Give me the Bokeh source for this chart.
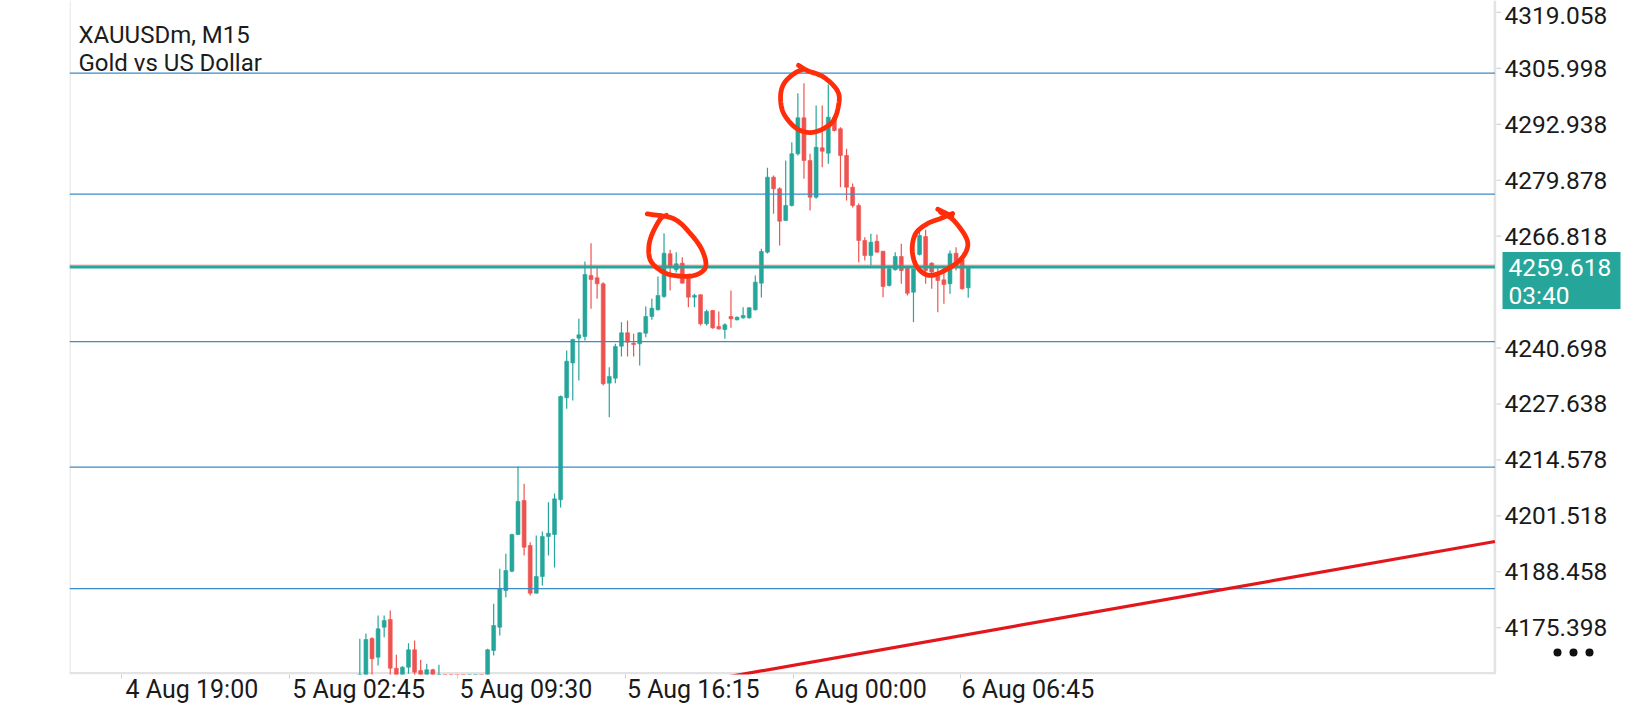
import numpy as np
from bokeh.plotting import figure
from bokeh.models import (ColumnDataSource, FixedTicker, Range1d, LinearAxis,
                          CustomJSTickFormatter)
from bokeh.embed import file_html
from bokeh.resources import INLINE
from bokeh.core.properties import value

# ---------------- data ----------------
symbol_title = "XAUUSDm, M15"
symbol_desc = "Gold vs US Dollar"

opens = [4158.60, 4160.20, 4172.88, 4168.51, 4175.51, 4177.31, 4165.94, 4164.24, 4166.18, 4170.24,
         4165.40, 4164.24, 4165.57, 4160.73, 4162.49, 4160.60, 4158.30, 4157.10, 4155.30, 4157.70,
         4159.00, 4158.40, 4170.08, 4175.51, 4184.09, 4188.59, 4197.16, 4205.10, 4194.59, 4183.45,
         4187.35, 4196.69, 4197.16, 4205.26, 4229.08, 4237.22, 4243.00, 4243.39, 4257.64, 4257.10,
         4255.70, 4232.49, 4233.65, 4241.13, 4244.26, 4241.83, 4241.69, 4244.16, 4248.06, 4249.63,
         4252.73, 4262.70, 4258.97, 4260.51, 4257.01, 4252.57, 4253.13, 4246.36, 4249.47, 4245.73,
         4245.03, 4248.06, 4247.29, 4247.76, 4247.76, 4249.63, 4255.84, 4263.08, 4280.59, 4277.88,
         4270.48, 4273.98, 4286.05, 4294.46, 4284.49, 4275.92, 4287.45, 4286.19, 4294.60, 4291.89,
         4285.66, 4278.25, 4273.98, 4265.81, 4262.31, 4265.64, 4263.31, 4255.30, 4258.97, 4262.07,
         4259.57, 4253.73, 4262.54, 4266.74, 4260.51, 4257.64, 4256.63, 4255.70, 4262.84, 4261.30,
         4254.76]
highs = [4172.80, 4174.04, 4173.18, 4178.25, 4178.25, 4179.42, 4169.07, 4166.41, 4171.78, 4172.41,
         4167.90, 4166.97, 4165.80, 4166.74, 4162.67, 4161.20, 4160.10, 4158.60, 4158.40, 4160.20,
         4160.90, 4170.47, 4180.98, 4189.15, 4192.65, 4197.32, 4213.04, 4209.00, 4195.36, 4196.93,
         4197.86, 4204.70, 4206.73, 4229.61, 4240.12, 4242.86, 4247.52, 4260.90, 4265.18, 4259.57,
         4256.07, 4236.22, 4241.69, 4246.73, 4247.13, 4244.02, 4244.40, 4250.40, 4252.19, 4257.40,
         4267.51, 4263.64, 4263.08, 4261.91, 4257.17, 4253.36, 4253.20, 4249.63, 4249.58, 4249.23,
         4246.50, 4254.13, 4248.06, 4250.24, 4250.24, 4257.64, 4263.87, 4282.78, 4280.99, 4278.25,
         4284.49, 4288.76, 4300.20, 4302.54, 4286.05, 4297.33, 4297.33, 4302.23, 4295.39, 4292.26,
         4287.22, 4279.12, 4274.45, 4266.58, 4267.37, 4267.21, 4263.31, 4259.97, 4263.08, 4265.04,
         4259.57, 4259.20, 4268.31, 4268.31, 4260.74, 4259.57, 4259.57, 4263.47, 4264.24, 4262.31,
         4259.57]
lows = [4156.50, 4159.57, 4160.73, 4166.57, 4173.18, 4162.60, 4162.60, 4162.67, 4164.63, 4164.24,
        4163.07, 4163.07, 4160.73, 4159.57, 4159.57, 4157.50, 4156.40, 4154.20, 4154.60, 4156.80,
        4157.20, 4157.23, 4168.91, 4173.57, 4182.52, 4188.36, 4197.04, 4192.26, 4182.92, 4183.38,
        4185.25, 4192.26, 4189.45, 4203.46, 4226.51, 4228.45, 4233.12, 4242.46, 4249.86, 4252.19,
        4231.95, 4224.55, 4232.49, 4238.72, 4238.72, 4238.72, 4236.62, 4243.23, 4247.29, 4249.47,
        4252.43, 4254.13, 4258.34, 4255.77, 4250.24, 4250.24, 4245.96, 4245.96, 4245.19, 4244.96,
        4242.85, 4245.42, 4247.13, 4247.52, 4247.52, 4249.47, 4252.50, 4262.77, 4272.04, 4264.64,
        4270.36, 4273.75, 4285.66, 4280.22, 4272.81, 4275.55, 4282.92, 4283.72, 4291.26, 4278.25,
        4275.15, 4273.51, 4260.74, 4261.14, 4259.97, 4263.01, 4252.57, 4255.07, 4258.80, 4255.70,
        4252.97, 4246.73, 4262.31, 4255.70, 4254.53, 4249.07, 4251.03, 4253.36, 4258.80, 4254.30,
        4252.43]
closes = [4160.20, 4172.64, 4168.14, 4175.14, 4177.08, 4165.94, 4163.84, 4166.18, 4170.24, 4165.01,
          4164.24, 4165.57, 4162.30, 4162.53, 4160.73, 4158.30, 4157.10, 4155.30, 4157.70, 4159.00,
          4158.20, 4170.24, 4175.91, 4184.48, 4188.75, 4197.16, 4204.87, 4194.19, 4183.45, 4187.35,
          4196.69, 4197.46, 4205.49, 4229.38, 4237.62, 4242.69, 4243.79, 4257.87, 4256.70, 4255.70,
          4232.35, 4234.05, 4241.06, 4244.26, 4242.06, 4241.53, 4244.26, 4248.06, 4249.99, 4252.97,
          4262.84, 4259.57, 4260.37, 4255.84, 4252.57, 4252.97, 4246.36, 4249.23, 4245.42, 4245.19,
          4246.13, 4247.52, 4247.90, 4248.30, 4250.10, 4256.07, 4263.24, 4280.59, 4277.88, 4270.32,
          4273.98, 4286.05, 4294.46, 4284.49, 4275.92, 4287.59, 4286.66, 4294.60, 4291.49, 4285.66,
          4278.25, 4273.98, 4265.81, 4262.31, 4265.41, 4263.08, 4255.07, 4259.20, 4262.07, 4258.80,
          4253.50, 4259.20, 4266.97, 4258.80, 4258.41, 4256.47, 4255.53, 4262.70, 4259.57, 4254.53,
          4259.618]

price_ticks = [4319.058, 4305.998, 4292.938, 4279.878, 4266.818,
               4240.698, 4227.638, 4214.578, 4201.518, 4188.458, 4175.398]
time_labels = ["4 Aug 19:00", "5 Aug 02:45", "5 Aug 09:30", "5 Aug 16:15", "6 Aug 00:00", "6 Aug 06:45"]
time_tick_bars = [-39.1, -11.6, 16.1, 43.6, 71.2, 98.7]      # separators (label starts)
time_label_bars = [-27.6, -0.2, 27.3, 54.8, 82.3, 109.8]     # label centres

level_prices = [4304.90, 4276.64, 4242.17, 4212.87, 4184.53]
current_price = 4259.618
countdown = "03:40"

trend_bars = [80.0, 160.0]
trend_prices = [4168.82, 4188.86]

circle1_bars = [47.24, 51.61, 54.36, 56.28, 56.82, 54.90, 51.61, 49.42, 47.78, 47.50, 48.06, 49.42, 50.40]
circle1_prices = [4272.04, 4270.87, 4267.37, 4263.47, 4259.57, 4257.64, 4257.64, 4258.80, 4261.14,
                  4264.24, 4267.37, 4270.87, 4271.70]
circle2_bars = [72.10, 73.54, 76.27, 78.47, 78.73, 77.65, 74.62, 71.89, 69.69, 69.15, 69.69, 71.33, 72.98]
circle2_prices = [4306.70, 4305.50, 4303.94, 4300.83, 4297.73, 4293.43, 4291.10, 4291.89, 4295.39,
                  4299.27, 4302.40, 4304.73, 4305.90]
circle3_bars = [95.45, 97.63, 99.84, 99.28, 97.09, 93.80, 91.62, 90.80, 91.34, 93.26, 95.45, 97.43]
circle3_prices = [4272.42, 4270.48, 4265.81, 4262.31, 4259.57, 4257.64, 4259.57, 4263.47, 4267.37,
                  4269.71, 4270.94, 4272.11]
mark3_bars = [95.0, 97.3]
mark3_prices = [4273.1, 4271.5]

# ---------------- layout / style ----------------
FONT = "Roboto"
LEFT, BOTTOM = 69, 30
FRAME_W, FRAME_H = 1555, 674
PX_PER_BAR = 6.084
PX_PER_PRICE = 1 / 0.2335
CHART_W = 1425.4                     # width of the candle area inside the frame
BULL, BEAR = "#26a69a", "#ef5350"
LEVEL = "#3a8bc8"
INK = "#ff2d0a"
BORDER = "#e3e3e3"
TXT = "#1a1a1a"

x_start = -47.72
x_end = x_start + FRAME_W / PX_PER_BAR
y_end = 4321.846
y_start = y_end - FRAME_H / PX_PER_PRICE
bpp = 1 / PX_PER_BAR
ppp = 1 / PX_PER_PRICE
edge = x_start + CHART_W * bpp       # bar coordinate of the right border of the chart area

o = np.array(opens); h = np.array(highs); l = np.array(lows); c = np.array(closes)
idx = np.arange(len(o))
up = c >= o
src = ColumnDataSource(dict(
    x=idx, o=o, h=h, l=l, c=c,
    top=np.maximum(o, c), bot=np.minimum(o, c),
    col=np.where(up, BULL, BEAR)))

p = figure(frame_width=FRAME_W, frame_height=FRAME_H,
           output_backend="svg", toolbar_location=None,
           x_range=Range1d(x_start, x_end), y_range=Range1d(y_start, y_end),
           x_axis_location=None, y_axis_location=None,
           min_border_left=LEFT, min_border_right=0,
           min_border_top=0, min_border_bottom=BOTTOM,
           background_fill_color="white", border_fill_color="white",
           outline_line_color=None)
p.grid.visible = False

# time axis
xax = LinearAxis(
    ticker=FixedTicker(ticks=time_label_bars, minor_ticks=time_tick_bars),
    formatter=CustomJSTickFormatter(args=dict(pos=time_label_bars, labs=time_labels), code="""
        let best = 0, d = 1e9;
        for (let i = 0; i < pos.length; i++) { const dd = Math.abs(pos[i] - tick); if (dd < d) { d = dd; best = i; } }
        return labs[best];"""),
    axis_line_color=None,
    major_tick_line_color=None, major_tick_out=0, major_tick_in=0,
    minor_tick_line_color="#cfcfcf", minor_tick_out=4, minor_tick_in=0,
    major_label_standoff=-4,
    major_label_text_font=FONT, major_label_text_font_size="25px",
    major_label_text_color=TXT)
p.add_layout(xax, "below")

# borders of the chart area
p.segment(x0=[x_start + 0.5 * bpp], x1=[x_start + 0.5 * bpp], y0=[y_start], y1=[y_end],
          line_color=BORDER, line_width=1.2)
p.segment(x0=[x_start], x1=[edge], y0=[y_start + 1.2 * ppp], y1=[y_start + 1.2 * ppp],
          line_color=BORDER, line_width=2.4)
p.segment(x0=[edge], x1=[edge], y0=[y_start], y1=[y_end], line_color=BORDER, line_width=2.6)

# candles
p.segment(x0="x", y0="l", x1="x", y1="h", source=src, line_color="col", line_width=1.2)
p.vbar(x="x", top="top", bottom="bot", width=0.64, source=src,
       fill_color="col", line_color="col", line_width=0.6)

# horizontal levels
n_lv = len(level_prices)
p.segment(x0=[x_start] * n_lv, x1=[edge] * n_lv, y0=level_prices, y1=level_prices,
          line_color=LEVEL, line_width=1.3)

# current price line (ask + bid)
p.segment(x0=[x_start], x1=[edge], y0=[current_price + 1.8 * ppp], y1=[current_price + 1.8 * ppp],
          line_color=BEAR, line_width=1.2, line_alpha=0.45)
p.segment(x0=[x_start], x1=[edge], y0=[current_price], y1=[current_price],
          line_color=BULL, line_width=3.2)

# trend line
slope = (trend_prices[1] - trend_prices[0]) / (trend_bars[1] - trend_bars[0])
p.line([x_start, edge], [trend_prices[0] + slope * (x_start - trend_bars[0]),
                         trend_prices[0] + slope * (edge - trend_bars[0])],
       line_color="#e3161b", line_width=3.2)


def smooth(xs, ys, n=12):
    xs = np.asarray(xs, float); ys = np.asarray(ys, float)
    px = np.concatenate([[2 * xs[0] - xs[1]], xs, [2 * xs[-1] - xs[-2]]])
    py = np.concatenate([[2 * ys[0] - ys[1]], ys, [2 * ys[-1] - ys[-2]]])
    ox, oy = [], []
    for i in range(1, len(px) - 2):
        for t in np.linspace(0, 1, n, endpoint=False):
            t2, t3 = t * t, t * t * t
            for arr, out in ((px, ox), (py, oy)):
                p0, p1, p2, p3 = arr[i - 1], arr[i], arr[i + 1], arr[i + 2]
                out.append(0.5 * (2 * p1 + (-p0 + p2) * t + (2 * p0 - 5 * p1 + 4 * p2 - p3) * t2
                                  + (-p0 + 3 * p1 - 3 * p2 + p3) * t3))
    ox.append(xs[-1]); oy.append(ys[-1])
    return ox, oy


for bx, by in ((circle1_bars, circle1_prices), (circle2_bars, circle2_prices),
               (circle3_bars, circle3_prices), (mark3_bars, mark3_prices)):
    sx, sy = smooth(bx, by)
    p.line(sx, sy, line_color=INK, line_width=4.8, line_cap="round", line_join="round")

# title
p.text(x=[x_start + 9 * bpp, x_start + 9 * bpp],
       y=[y_end - 34.6 * ppp, y_end - 62.8 * ppp],
       text=[symbol_title, symbol_desc],
       text_font=value(FONT), text_font_size="24px", text_color="#1c1c1c",
       text_align="left", text_baseline="alphabetic")

# price scale (ticks + labels) to the right of the chart area
n_pt = len(price_ticks)
p.segment(x0=[edge + 1.5 * bpp] * n_pt, x1=[edge + 6 * bpp] * n_pt, y0=price_ticks, y1=price_ticks,
          line_color="#d3d3d3", line_width=1.2)
label_y = [min(t, y_end - 14.5 * ppp) for t in price_ticks]
p.text(x=[edge + 9.6 * bpp] * n_pt, y=label_y, text=[f"{t:.3f}" for t in price_ticks],
       text_font=value(FONT), text_font_size="24.5px", text_color=TXT,
       text_align="left", text_baseline="middle")

# current price box
p.quad(left=[edge + 7.6 * bpp], right=[edge + 125.6 * bpp],
       top=[current_price + 15 * ppp], bottom=[current_price - 42 * ppp],
       fill_color=BULL, line_color=None)
p.text(x=[edge + 13.6 * bpp] * 2, y=[current_price, current_price - 28 * ppp],
       text=[f"{current_price:.3f}", countdown],
       text_font=value(FONT), text_font_size="24.5px", text_color="white",
       text_align="left", text_baseline="middle")

# menu dots
p.scatter(x=[edge + d * bpp for d in (62.6, 78.6, 94.6)], y=[y_end - 652 * ppp] * 3,
          size=8, marker="circle", fill_color="#111111", line_color=None)

open("out.html", "w").write(file_html(p, INLINE))
